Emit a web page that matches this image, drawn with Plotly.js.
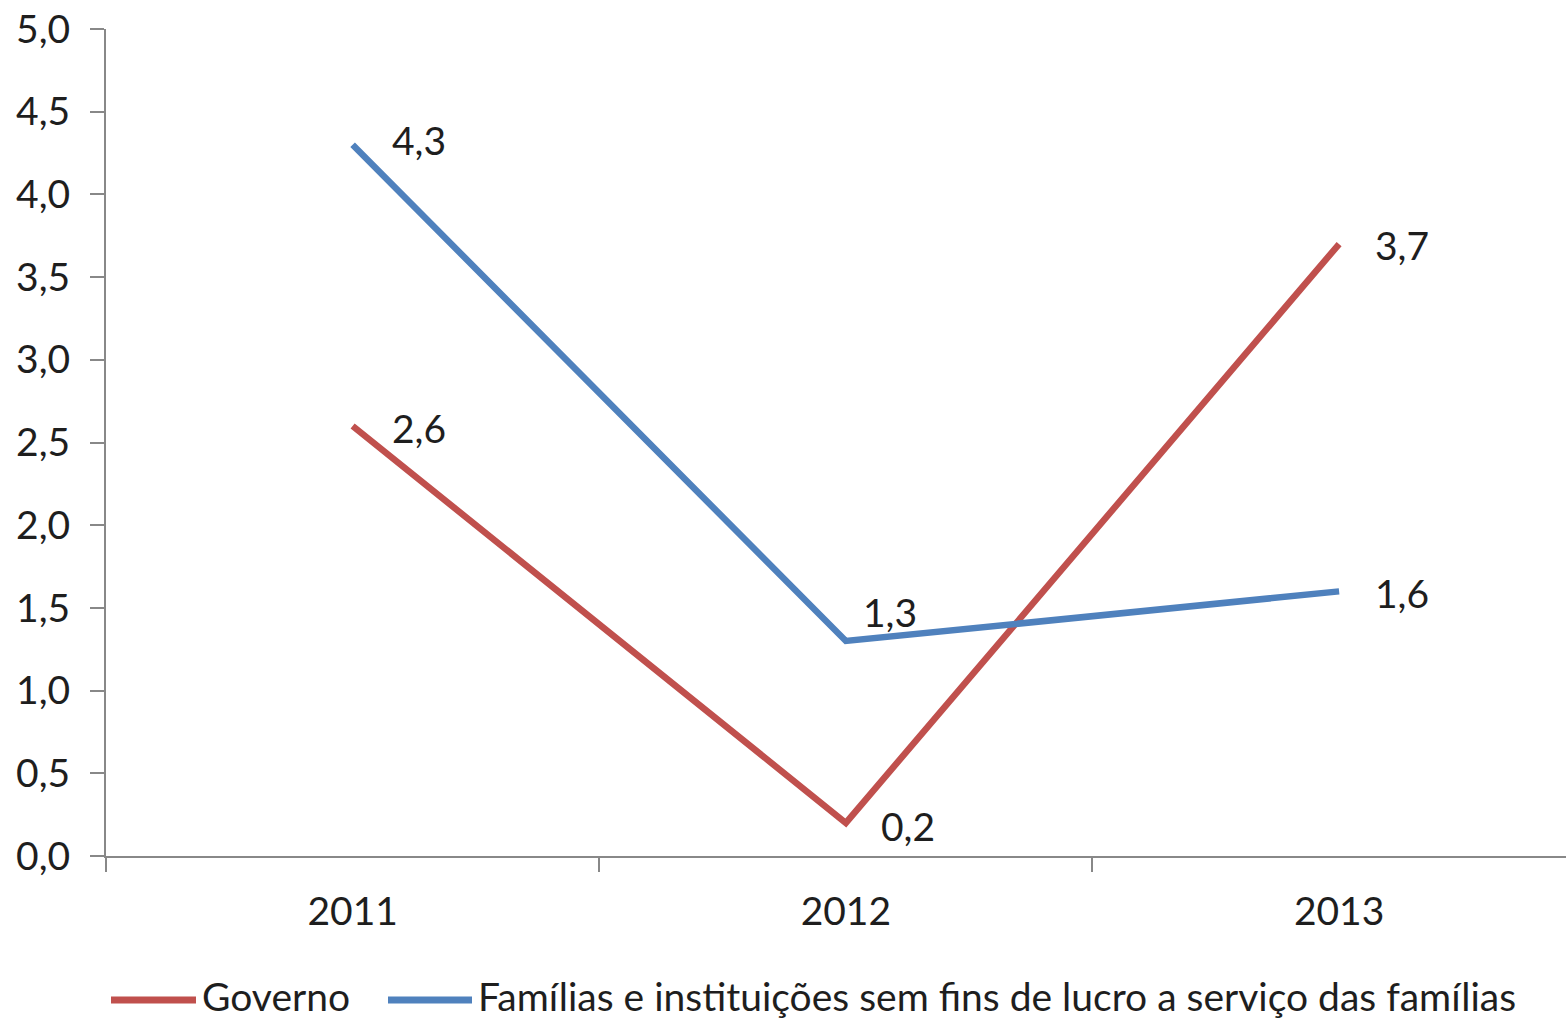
<!DOCTYPE html>
<html>
<head>
<meta charset="utf-8">
<script src="https://cdn.plot.ly/plotly-3.0.1.min.js"></script>
<style>
  html, body { margin: 0; padding: 0; background: #ffffff; }
  #chart { width: 1566px; height: 1019px; }
</style>
</head>
<body>
<div id="chart"></div>
<script>
// Annual variation by sector
const years = ['2011', '2012', '2013'];
const governo = [2.6, 0.2, 3.7];
const familias = [4.3, 1.3, 1.6];
const seriesNames = ['Governo', 'Famílias e instituições sem fins de lucro a serviço das famílias'];
const yTickValues = [0, 0.5, 1, 1.5, 2, 2.5, 3, 3.5, 4, 4.5, 5];

const FONT = 'Lato, "Open Sans", sans-serif';
const TEXT = '#1e1e1e';
const RED = '#C0504D';
const BLUE = '#4F81BD';
const AXIS = '#888888';
const FS = 39;

const W = 1566, H = 1019;
const M = { l: 106, r: 0, t: 29, b: 163 };
const plotW = W - M.l - M.r, plotH = H - M.t - M.b;
// pixel -> paper helpers for the hand-built legend
const px = x => (x - M.l) / plotW;
const py = y => (H - M.b - y) / plotH;

const fmt = v => v.toFixed(1).replace('.', ',');
const series = [
  { name: seriesNames[0], values: governo, color: RED },
  { name: seriesNames[1], values: familias, color: BLUE }
];

const traces = series.map(s => ({
  x: years, y: s.values, name: s.name, type: 'scatter', mode: 'lines',
  line: { color: s.color, width: 6.5 }, hoverinfo: 'skip'
}));

// value labels beside each point: [xshift, yshift] in px
const labelShift = [
  [[37, -2], [33, -3], [34, -1]],
  [[37, 5], [15, 29], [34, -2]]
];
const annotations = [];
series.forEach((s, k) => {
  s.values.forEach((v, i) => {
    annotations.push({
      x: i, y: v, xref: 'x', yref: 'y', text: fmt(v),
      showarrow: false, xanchor: 'left', yanchor: 'middle',
      xshift: labelShift[k][i][0], yshift: labelShift[k][i][1],
      font: { family: FONT, size: FS, color: TEXT }
    });
  });
});

// legend row under the axis
const legendLineY = 1000;
const legendTextY = 996;
const legendItems = [
  { x0: 111, x1: 196, tx: 201 },
  { x0: 388, x1: 472, tx: 477 }
];
const shapes = [];
series.forEach((s, k) => {
  const it = legendItems[k];
  shapes.push({
    type: 'line', xref: 'paper', yref: 'paper',
    x0: px(it.x0), x1: px(it.x1), y0: py(legendLineY), y1: py(legendLineY),
    line: { color: s.color, width: 7 }
  });
  annotations.push({
    xref: 'paper', yref: 'paper', x: px(it.tx), y: py(legendTextY),
    text: s.name, showarrow: false, xanchor: 'left', yanchor: 'middle',
    borderpad: 0,
    font: { family: FONT, size: FS, color: TEXT }
  });
});

const layout = {
  width: W, height: H,
  margin: M,
  paper_bgcolor: '#ffffff', plot_bgcolor: '#ffffff',
  separators: ',.',
  font: { family: FONT, size: FS, color: TEXT },
  showlegend: false,
  xaxis: {
    type: 'category', range: [-0.5, 2.46], tickson: 'boundaries',
    showline: true, linecolor: AXIS, linewidth: 2,
    ticks: 'outside', ticklen: 14, tickwidth: 2, tickcolor: AXIS,
    showgrid: false, zeroline: false, fixedrange: true,
    ticklabelstandoff: 20,
    tickfont: { family: FONT, size: FS, color: TEXT }
  },
  yaxis: {
    range: [0, 5], tickvals: yTickValues, tickformat: '.1f',
    showline: true, linecolor: AXIS, linewidth: 2,
    ticks: 'outside', ticklen: 14, tickwidth: 2, tickcolor: AXIS,
    showgrid: false, zeroline: false, fixedrange: true,
    ticklabelstandoff: 12,
    tickfont: { family: FONT, size: FS, color: TEXT }
  },
  shapes: shapes,
  annotations: annotations
};

Plotly.newPlot('chart', traces, layout, { displayModeBar: false, staticPlot: true });
</script>
</body>
</html>
